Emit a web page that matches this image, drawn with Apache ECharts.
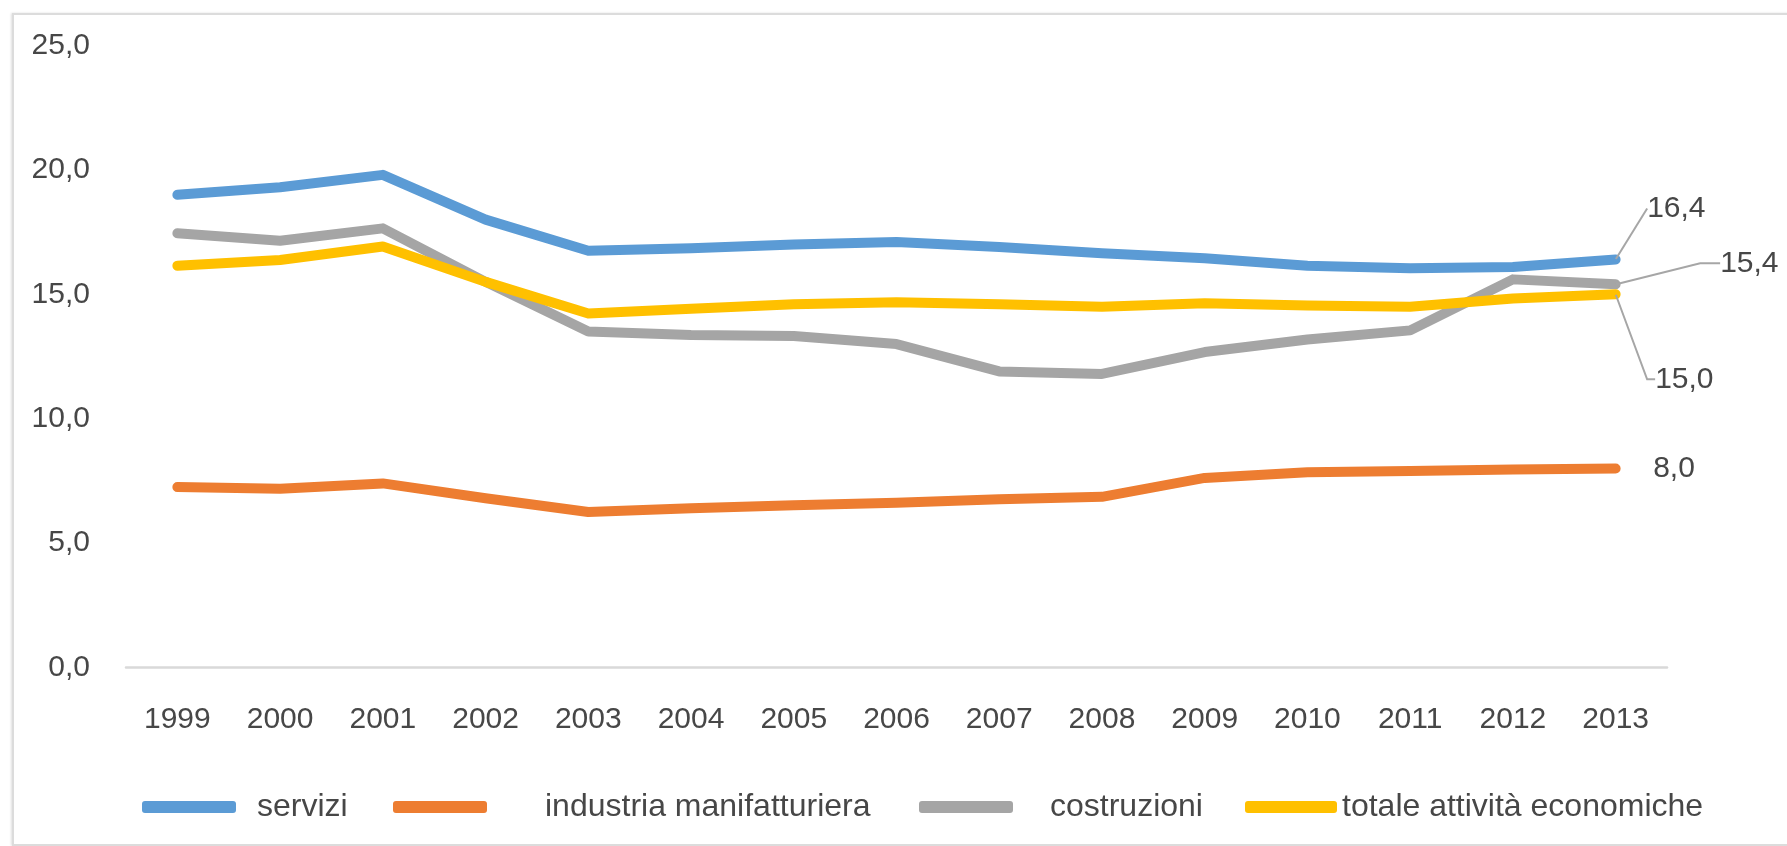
<!DOCTYPE html>
<html>
<head>
<meta charset="utf-8">
<script src="https://cdn.jsdelivr.net/npm/echarts@6/dist/echarts.min.js"></script>
<style>
  html, body { margin: 0; padding: 0; background: #fff; overflow: hidden; }
  #frame {
    position: absolute; left: 12px; top: 13px; right: -12px; bottom: 0;
    border: 2px solid #dcdcdc; box-shadow: -1px 0 2px rgba(0,0,0,0.12);
  }
  #main { position: absolute; left: 0; top: 0; width: 1787px; height: 846px; }
</style>
</head>
<body>
<div id="frame"></div>
<div id="main"></div>
<script>
// anni
const years = ["1999", "2000", "2001", "2002", "2003", "2004", "2005", "2006",
  "2007", "2008", "2009", "2010", "2011", "2012", "2013"];

// valori
const servizi = [19.0, 19.3, 19.8, 18.0, 16.75, 16.85, 17.0, 17.1, 16.9, 16.65, 16.45, 16.15, 16.05, 16.1, 16.4];
const industria = [7.25, 7.18, 7.4, 6.8, 6.25, 6.4, 6.52, 6.62, 6.76, 6.86, 7.62, 7.85, 7.9, 7.96, 8.0];
const costruzioni = [17.45, 17.15, 17.65, 15.5, 13.5, 13.36, 13.32, 13.0, 11.9, 11.8, 12.68, 13.18, 13.55, 15.6, 15.4];
const totale = [16.15, 16.38, 16.92, 15.5, 14.23, 14.42, 14.6, 14.68, 14.6, 14.5, 14.64, 14.55, 14.5, 14.83, 15.0];

const names = ["servizi", "industria manifatturiera", "costruzioni", "totale attività economiche"];
const colors = ["#5B9BD5", "#ED7D31", "#A5A5A5", "#FFC000"];

const FONT = '"Liberation Sans", Arial, sans-serif';
const TXT = "#474747";

const fmt = (v) => v.toFixed(1).replace(".", ",");

// etichetta solo sull'ultimo punto
function withEndLabel(values) {
  return values.map((v, i) =>
    i === values.length - 1
      ? { value: v, label: { show: true, position: "right", distance: 0 } }
      : v
  );
}

function makeSeries(idx, values, layout, guide) {
  return {
    name: names[idx],
    type: "line",
    data: withEndLabel(values),
    symbol: "circle",
    symbolSize: 1,
    showSymbol: true,
    color: colors[idx],
    lineStyle: { width: 10, color: colors[idx], cap: "round", join: "round" },
    itemStyle: { color: colors[idx] },
    label: {
      show: false,
      fontFamily: FONT,
      fontSize: 30,
      color: TXT,
      formatter: (p) => fmt(p.value),
    },
    labelLayout: layout,
    labelLine: guide != null
      ? { show: true, length2: guide, lineStyle: { color: "#a6a6a6", width: 2 } }
      : { show: false },
    emphasis: { disabled: true },
  };
}

function makeLegend(name, left, padLeft, width) {
  return {
    data: [name],
    left: left,
    top: 791,
    padding: 0,
    icon: "roundRect",
    itemWidth: width || 94,
    itemHeight: 12,
    selectedMode: false,
    textStyle: {
      fontFamily: FONT,
      fontSize: 32,
      color: TXT,
      padding: [0, 0, 0, padLeft],
    },
  };
}

const chart = echarts.init(document.getElementById("main"));

chart.setOption({
  animation: false,
  grid: { left: 126, right: 120, top: 45.5, bottom: 846 - 667.5 },
  legend: [
    makeLegend(names[0], 142, 16),
    makeLegend(names[1], 393, 53),
    makeLegend(names[2], 919, 32),
    makeLegend(names[3], 1245, 0, 92),
  ],
  xAxis: {
    type: "category",
    data: years,
    boundaryGap: true,
    axisLine: { show: true, lineStyle: { color: "#d9d9d9", width: 2.5 } },
    axisTick: { show: false },
    axisLabel: { fontFamily: FONT, fontSize: 30, color: TXT, margin: 37, interval: 0 },
  },
  yAxis: {
    type: "value",
    min: 0,
    max: 25,
    interval: 5,
    axisLine: { show: false },
    axisTick: { show: false },
    splitLine: { show: false },
    axisLabel: {
      fontFamily: FONT,
      fontSize: 30,
      color: TXT,
      margin: 36,
      padding: [7, 0, 0, 0],
      formatter: fmt,
    },
  },
  series: [
    makeSeries(0, servizi, { dx: 31, dy: -51 }, 0),
    makeSeries(1, industria, { dx: 37, dy: 0 }, null),
    makeSeries(2, costruzioni, { dx: 104, dy: -21 }, 20),
    makeSeries(3, totale, { dx: 39, dy: 85 }, 8),
  ],
});
</script>
</body>
</html>
